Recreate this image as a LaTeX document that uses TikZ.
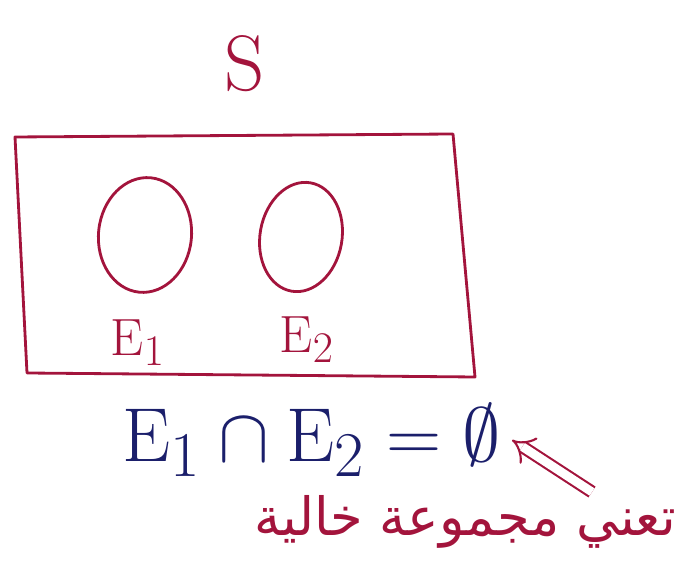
\documentclass[tikz,border=0pt]{standalone}
\usepackage{fontspec}
\usetikzlibrary{arrows.meta, shapes.geometric}
\newfontfamily\arabicfont[Script=Arabic]{DejaVu Sans}
\TeXXeTstate=1
\definecolor{inkred}{HTML}{A3143C}
\definecolor{inkblue}{HTML}{1B1F6B}
\tikzset{
  setline/.style={draw=inkred, line width=1.6pt, line join=round},
  setlabel/.style={text=inkred, font=\Huge, scale=1.2},
}

\begin{document}
\begin{tikzpicture}[x=0.02cm, y=-0.02cm]
                \useasboundingbox (0, 0) rectangle (683, 573);
                % Sample space and events:
                \node[setlabel, scale=1.5](S) at (245, 64){$\mathrm{S}$};
                \draw[setline] (15, 137) -- (453, 134) -- (475, 377) -- (27, 373) -- cycle;
                \node[setline, ellipse, inner sep=0pt, minimum width=1.86cm, minimum height=2.3cm, rotate=-6](E1) at (145, 235){};
                \node[setline, ellipse, inner sep=0pt, minimum width=1.64cm, minimum height=2.2cm, rotate=-10](E2) at (301, 237){};
                \node[setlabel](L1) at (138, 343){$\mathrm{E}_1$};
                \node[setlabel](L2) at (307, 340){$\mathrm{E}_2$};
                % Intersection and note:
                \node[text=inkblue, font=\Huge, scale=1.75](Eq) at (312, 440){$\mathrm{E}_1 \cap \mathrm{E}_2 = \emptyset$};
                \node[text=inkred, font=\arabicfont\fontsize{30}{32}\selectfont](Note) at (465, 522){\beginR تعني مجموعة خالية\endR};
                \coordinate (Tail) at (592, 492);
                \draw[inkred, line width=1.2pt, double, double distance=5pt, -{Implies}] (Tail) -- (Eq.east);
            \end{tikzpicture}
\end{document}
